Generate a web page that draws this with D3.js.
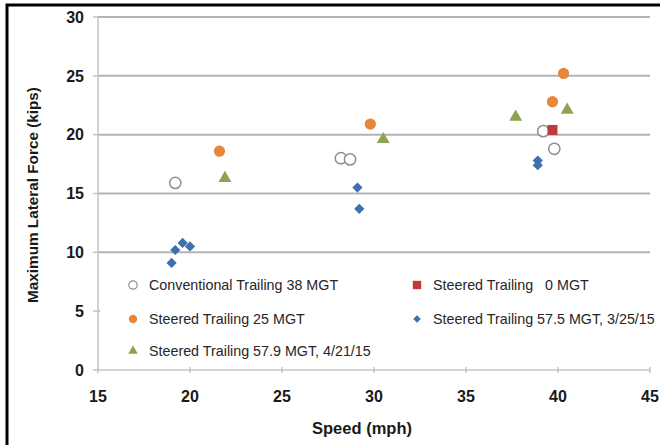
<!DOCTYPE html>
<html>
<head>
<meta charset="utf-8">
<script src="https://cdn.jsdelivr.net/npm/d3@7"></script>
<style>
  html, body { margin: 0; padding: 0; background: #fff; }
  svg { display: block; font-family: "Liberation Sans", Arial, sans-serif; }
  .grid line { stroke: #b3b3b3; stroke-width: 2; }
  .tick-label { font-weight: bold; font-size: 16px; fill: #1a1a1a; }
  .axis-title { font-weight: bold; font-size: 16.5px; fill: #1a1a1a; }
  .legend-text { font-size: 14.3px; fill: #262626; white-space: pre; }
</style>
</head>
<body>
<svg id="chart" width="660" height="445"></svg>
<script>
// speed (mph) / max lateral force (kips) per series
const conventional38 = [[19.2, 15.9], [28.2, 18.0], [28.7, 17.9], [39.2, 20.3], [39.8, 18.8]];
const steered0 = [[39.7, 20.4]];
const steered25 = [[21.6, 18.6], [29.8, 20.9], [39.7, 22.8], [40.3, 25.2]];
const steered575 = [[19.0, 9.1], [19.2, 10.2], [19.6, 10.8], [20.0, 10.5], [29.1, 15.5], [29.2, 13.7], [38.9, 17.8], [38.9, 17.4]];
const steered579 = [[21.9, 16.3], [30.5, 19.6], [37.7, 21.5], [40.5, 22.1]];

const xTicks = [15, 20, 25, 30, 35, 40, 45];
const yTicks = [0, 5, 10, 15, 20, 25, 30];

const seriesList = [
  { name: "Conventional Trailing 38 MGT", data: conventional38, shape: "circle", fill: "#fff", stroke: "#8f8f8f", col: 0, row: 0 },
  { name: "Steered Trailing   0 MGT", data: steered0, shape: "square", fill: "#c0393b", stroke: "none", col: 1, row: 0 },
  { name: "Steered Trailing 25 MGT", data: steered25, shape: "circle", fill: "#e8863a", stroke: "none", col: 0, row: 1 },
  { name: "Steered Trailing 57.5 MGT, 3/25/15", data: steered575, shape: "diamond", fill: "#3e70b1", stroke: "none", col: 1, row: 1 },
  { name: "Steered Trailing 57.9 MGT, 4/21/15", data: steered579, shape: "triangle", fill: "#8ea34f", stroke: "none", col: 0, row: 2 }
];

const svg = d3.select("#chart");
const x = d3.scaleLinear().domain([15, 45]).range([98, 650]);
const y = d3.scaleLinear().domain([0, 30]).range([370, 17]);

// frame (top + left only)
svg.append("path")
  .attr("d", "M7,445 L7,5 L660,5")
  .attr("fill", "none")
  .attr("stroke", "#000")
  .attr("stroke-width", 3);

// horizontal gridlines
svg.append("g").attr("class", "grid")
  .selectAll("line")
  .data(yTicks.filter((d) => d > 0))
  .join("line")
  .attr("x1", x(15)).attr("x2", x(45))
  .attr("y1", (d) => y(d)).attr("y2", (d) => y(d));

// legend background covers gridline at 5
svg.append("rect")
  .attr("x", x(15) + 2).attr("y", 266)
  .attr("width", x(45) - x(15) - 2).attr("height", 98)
  .attr("fill", "#fff");

// y axis line and ticks
svg.append("line")
  .attr("x1", x(15)).attr("x2", x(15))
  .attr("y1", y(30)).attr("y2", y(0))
  .attr("stroke", "#c4c4c4").attr("stroke-width", 1.5);
svg.append("g").selectAll("line")
  .data(yTicks)
  .join("line")
  .attr("x1", x(15) - 5).attr("x2", x(15))
  .attr("y1", (d) => y(d)).attr("y2", (d) => y(d))
  .attr("stroke", "#c4c4c4").attr("stroke-width", 1.5);

// x axis line and ticks
svg.append("line")
  .attr("x1", x(15)).attr("x2", x(45))
  .attr("y1", y(0)).attr("y2", y(0))
  .attr("stroke", "#c4c4c4").attr("stroke-width", 1.5);
svg.append("g").selectAll("line")
  .data(xTicks)
  .join("line")
  .attr("x1", (d) => x(d)).attr("x2", (d) => x(d))
  .attr("y1", y(0) - 3).attr("y2", y(0) + 3)
  .attr("stroke", "#c4c4c4").attr("stroke-width", 1.5);

// tick labels
svg.append("g").selectAll("text")
  .data(yTicks)
  .join("text")
  .attr("class", "tick-label")
  .attr("x", 84)
  .attr("y", (d) => y(d))
  .attr("dy", "0.36em")
  .attr("text-anchor", "end")
  .text((d) => d);

svg.append("g").selectAll("text")
  .data(xTicks)
  .join("text")
  .attr("class", "tick-label")
  .attr("x", (d) => x(d))
  .attr("y", 402)
  .attr("text-anchor", "middle")
  .text((d) => d);

// axis titles
svg.append("text")
  .attr("class", "axis-title")
  .attr("x", 362).attr("y", 434)
  .attr("text-anchor", "middle")
  .text("Speed (mph)");

svg.append("text")
  .attr("class", "axis-title")
  .style("font-size", "15.3px")
  .attr("transform", "translate(38,195) rotate(-90)")
  .attr("text-anchor", "middle")
  .text("Maximum Lateral Force (kips)");

function symbolPath(shape, size) {
  const type = {
    circle: d3.symbolCircle,
    square: d3.symbolSquare,
    diamond: d3.symbolSquare,
    triangle: d3.symbolTriangle
  }[shape];
  return d3.symbol().type(type).size(size)();
}

const sizes = { circle: 100, square: 100, diamond: 52, triangle: 72 };

// points
const marks = svg.append("g");
seriesList.forEach((s) => {
  marks.append("g").selectAll("path")
    .data(s.data)
    .join("path")
    .attr("d", symbolPath(s.shape, sizes[s.shape]))
    .attr("transform", (d) => `translate(${x(d[0])},${y(d[1])})` + (s.shape === "diamond" ? " rotate(45)" : ""))
    .attr("fill", s.fill)
    .attr("stroke", s.stroke)
    .attr("stroke-width", 1.5);
});

// legend
const legendCols = [133, 417];
const legendRows = [285, 319, 351];
const legend = svg.append("g").selectAll("g")
  .data(seriesList)
  .join("g")
  .attr("transform", (d) => `translate(${legendCols[d.col]},${legendRows[d.row]})`);

legend.append("path")
  .attr("d", (d) => symbolPath(d.shape, sizes[d.shape] * (d.shape === "square" ? 0.7 : 0.55)))
  .attr("transform", (d) => d.shape === "diamond" ? "rotate(45)" : null)
  .attr("fill", (d) => d.fill)
  .attr("stroke", (d) => d.stroke)
  .attr("stroke-width", 1.2);

legend.append("text")
  .attr("class", "legend-text")
  .attr("x", 16)
  .attr("dy", "0.36em")
  .text((d) => d.name);
</script>
</body>
</html>
